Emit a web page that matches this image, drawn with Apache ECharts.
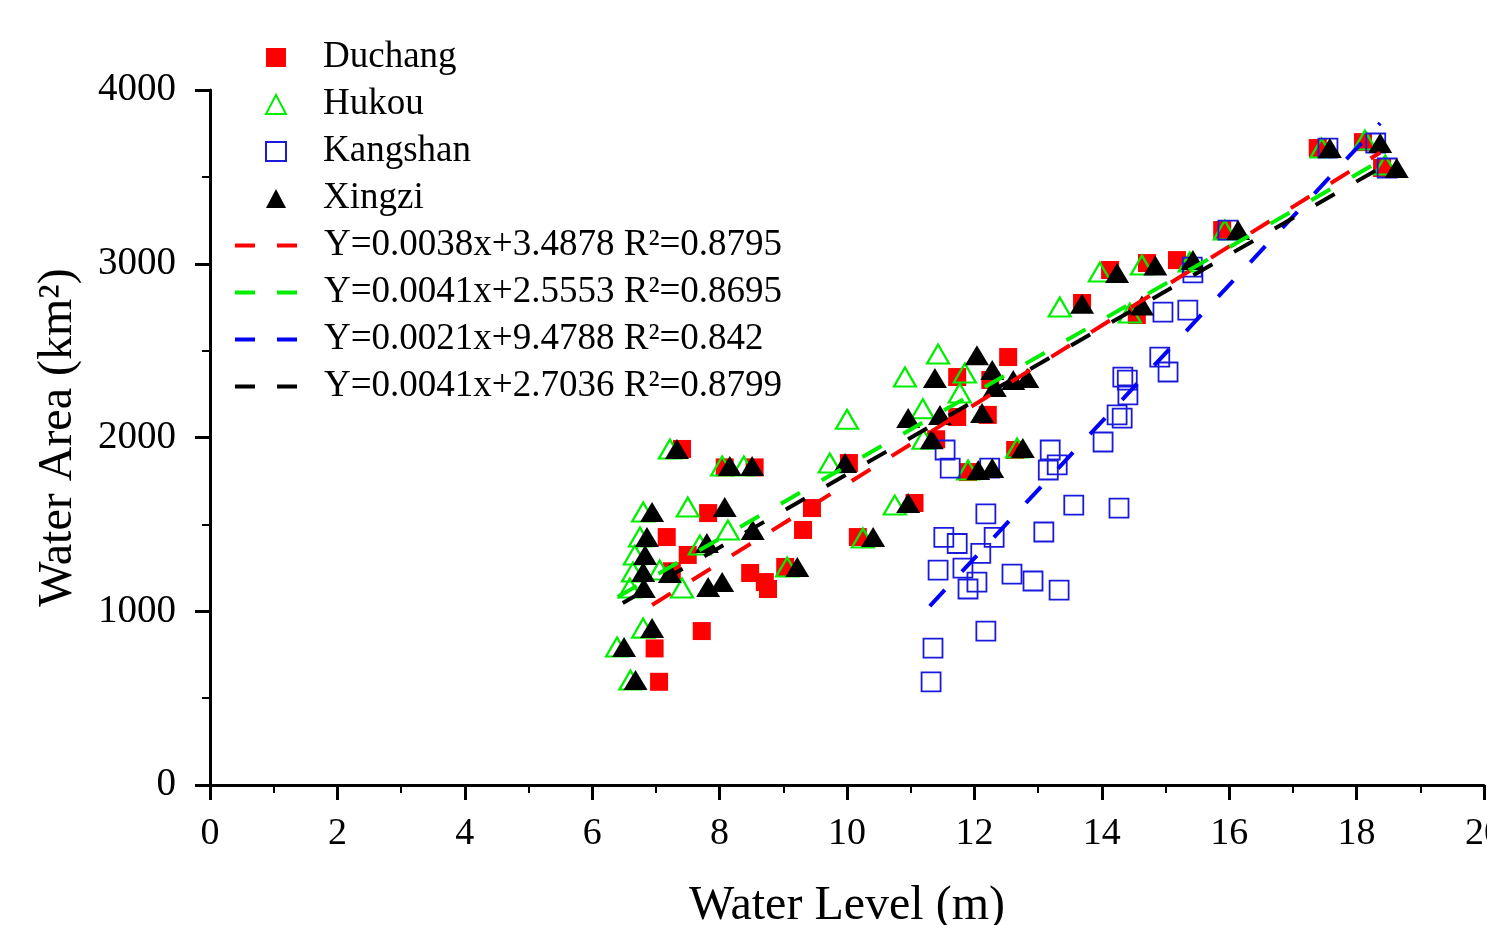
<!DOCTYPE html>
<html>
<head>
<meta charset="utf-8">
<title>Water Level vs Water Area</title>
<script src="https://cdn.jsdelivr.net/npm/echarts@6/dist/echarts.min.js"></script>
<style>
  html, body { margin: 0; padding: 0; background: #fff; }
  #chart { width: 1487px; height: 925px; }
</style>
</head>
<body>
<div id="chart"></div>
<script>
// [water level (m), water area (km2)]
var duchang = [
  [7.05, 594], [6.98, 786], [7.72, 886], [8.76, 1128], [8.71, 1168], [8.48, 1220],
  [9.03, 1255], [7.50, 1324], [7.17, 1427], [10.17, 1427], [9.31, 1468], [7.82, 1565],
  [9.45, 1594], [11.06, 1623], [8.08, 1828], [8.55, 1828], [10.03, 1853], [7.41, 1934],
  [7.25, 1230], [11.40, 1990], [11.90, 1801], [12.64, 1928], [11.73, 2118], [12.21, 2130],
  [11.73, 2348], [12.25, 2331], [12.53, 2463], [13.69, 2774], [14.55, 2705], [14.13, 2964],
  [14.71, 3004], [15.18, 3021], [15.89, 3194], [17.39, 3666], [18.10, 3700], [18.40, 3551]
];
var hukou = [
  [6.60, 604], [6.39, 794], [6.80, 903], [6.59, 1134], [6.64, 1226], [6.67, 1324],
  [6.75, 1427], [6.80, 1571], [7.22, 1934], [7.06, 1237], [7.41, 1134], [7.50, 1600],
  [7.69, 1381], [8.04, 1836], [8.38, 1836], [8.13, 1468], [9.06, 1255], [9.73, 1853],
  [10.00, 2105], [10.25, 1422], [10.75, 1611], [10.91, 2348], [11.19, 2165], [11.20, 1990],
  [11.43, 2480], [11.77, 2256], [11.85, 2371], [11.90, 1813], [12.67, 1940], [13.34, 2751],
  [13.97, 2952], [14.44, 2716], [14.63, 2993], [15.38, 3010], [15.93, 3194], [17.45, 3666],
  [18.13, 3712], [18.45, 3568]
];
var kangshan = [
  [11.32, 593], [11.35, 788], [12.18, 886], [11.90, 1128], [12.04, 1168], [13.33, 1122],
  [12.92, 1174], [12.59, 1214], [11.43, 1237], [11.82, 1248], [12.10, 1333], [11.73, 1390],
  [11.52, 1425], [12.31, 1425], [13.09, 1456], [12.18, 1560], [13.56, 1611], [14.27, 1594],
  [11.54, 1928], [11.62, 1824], [12.24, 1824], [13.19, 1928], [13.16, 1813], [13.30, 1842],
  [14.02, 1974], [14.24, 2130], [14.32, 2112], [14.41, 2245], [14.33, 2348], [14.40, 2330],
  [14.91, 2463], [15.04, 2377], [14.96, 2722], [15.35, 2733], [15.42, 2981], [15.43, 2947],
  [15.98, 3194], [17.55, 3666], [18.30, 3695], [18.48, 3551]
];
var xingzi = [
  [6.68, 604], [6.50, 794], [6.94, 903], [6.81, 1134], [6.80, 1226], [6.83, 1324],
  [6.86, 1427], [6.94, 1571], [7.33, 1934], [7.22, 1220], [7.80, 1393], [7.82, 1140],
  [8.04, 1168], [8.08, 1600], [8.16, 1836], [8.51, 1836], [8.52, 1468], [9.22, 1255],
  [9.97, 1853], [10.41, 1427], [10.96, 1623], [10.96, 2112], [11.33, 1990], [11.38, 2342],
  [11.46, 2130], [12.04, 2473], [12.12, 2141], [12.28, 2388], [12.32, 2290], [12.61, 2331],
  [12.83, 2342], [12.06, 1813], [12.28, 1824], [12.76, 1939], [13.69, 2770], [14.24, 2947],
  [14.63, 2760], [14.84, 2990], [15.43, 3021], [16.14, 3194], [17.58, 3666], [18.37, 3695],
  [18.63, 3551]
];

// fitted lines, start and end points as drawn
var fitDuchang = [[6.94, 1036], [18.37, 3640]];
var fitHukou = [[6.40, 1082], [18.55, 3630]];
var fitKangshan = [[11.30, 1030], [18.37, 3810]];
var fitXingzi = [[6.48, 1047], [18.60, 3600]];

var fitNames = [
  'Y=0.0038x+3.4878 R²=0.8795',
  'Y=0.0041x+2.5553 R²=0.8695',
  'Y=0.0021x+9.4788 R²=0.842',
  'Y=0.0041x+2.7036 R²=0.8799'
];

var font = 'Liberation Serif';
var chart = echarts.init(document.getElementById('chart'));

function fitLine(name, data, color) {
  return {
    name: name,
    type: 'line',
    data: data,
    symbol: 'none',
    silent: true,
    lineStyle: { color: color, width: 4, type: [22, 25] },
    itemStyle: { color: color }
  };
}

// legend entry for a fit line: dashed stroke, hide the dot in the middle
function legendLine(name, color) {
  return {
    name: name,
    lineStyle: { type: [20, 22], width: 4, color: color },
    itemStyle: { color: 'rgba(0,0,0,0)', borderColor: 'rgba(0,0,0,0)', borderWidth: 0 }
  };
}

var legendText = { fontFamily: font, fontSize: 37, lineHeight: 47, color: '#000' };

chart.setOption({
  backgroundColor: '#fff',
  animation: false,
  grid: { left: 210, right: 3, top: 90, bottom: 140, outerBoundsMode: 'none' },
  legend: [
    {
      orient: 'vertical',
      left: 265,
      top: 34,
      padding: 0,
      itemWidth: 20,
      itemHeight: 19,
      itemGap: 0,
      textStyle: Object.assign({ padding: [0, 0, 0, 32] }, legendText),
      data: ['Duchang', 'Hukou', 'Kangshan', 'Xingzi']
    },
    {
      orient: 'vertical',
      left: 233,
      top: 34 + 4 * 47,
      padding: 0,
      itemWidth: 62,
      itemHeight: 19,
      itemGap: 0,
      textStyle: Object.assign({ padding: [0, 0, 0, 22] }, legendText),
      data: [
        legendLine(fitNames[0], '#ff0000'),
        legendLine(fitNames[1], '#00ee00'),
        legendLine(fitNames[2], '#0000ff'),
        legendLine(fitNames[3], '#000000')
      ]
    }
  ],
  xAxis: {
    type: 'value',
    min: 0, max: 20, interval: 2,
    name: 'Water Level (m)',
    nameLocation: 'middle',
    nameGap: 97,
    nameTextStyle: { fontFamily: font, fontSize: 48, color: '#000' },
    axisLine: { lineStyle: { color: '#000', width: 3 } },
    axisTick: { length: 15, lineStyle: { width: 3, color: '#000' } },
    minorTick: { show: true, splitNumber: 2, length: 8, lineStyle: { width: 2, color: '#000' } },
    axisLabel: { fontFamily: font, fontSize: 38, color: '#000', margin: 30, formatter: function (v) { return String(v); } },
    splitLine: { show: false }
  },
  yAxis: {
    type: 'value',
    min: 0, max: 4000, interval: 1000,
    name: 'Water Area (km²)',
    nameLocation: 'middle',
    nameGap: 128,
    nameTextStyle: { fontFamily: font, fontSize: 48, color: '#000' },
    axisLine: { show: true, lineStyle: { color: '#000', width: 3 } },
    axisTick: { show: true, length: 15, lineStyle: { width: 3, color: '#000' } },
    minorTick: { show: true, splitNumber: 2, length: 8, lineStyle: { width: 2, color: '#000' } },
    axisLabel: { fontFamily: font, fontSize: 39, color: '#000', margin: 34, formatter: function (v) { return String(v); } },
    splitLine: { show: false }
  },
  series: [
    {
      name: 'Duchang', type: 'scatter', data: duchang,
      symbol: 'rect', symbolSize: 18,
      itemStyle: { color: '#ff0000', opacity: 1 }
    },
    {
      name: 'Hukou', type: 'scatter', data: hukou,
      symbol: 'triangle', symbolSize: [22, 19],
      itemStyle: { color: 'rgba(0,0,0,0)', borderColor: '#00ee00', borderWidth: 2.2, opacity: 1 }
    },
    {
      name: 'Kangshan', type: 'scatter', data: kangshan,
      symbol: 'rect', symbolSize: 19,
      itemStyle: { color: 'rgba(0,0,0,0)', borderColor: '#1a1add', borderWidth: 1.8, opacity: 1 }
    },
    {
      name: 'Xingzi', type: 'scatter', data: xingzi,
      symbol: 'triangle', symbolSize: [24, 20],
      itemStyle: { color: '#000', opacity: 1 }
    },
    fitLine(fitNames[0], fitDuchang, '#ff0000'),
    fitLine(fitNames[1], fitHukou, '#00ee00'),
    fitLine(fitNames[2], fitKangshan, '#0000ff'),
    fitLine(fitNames[3], fitXingzi, '#000000')
  ]
});
</script>
</body>
</html>
